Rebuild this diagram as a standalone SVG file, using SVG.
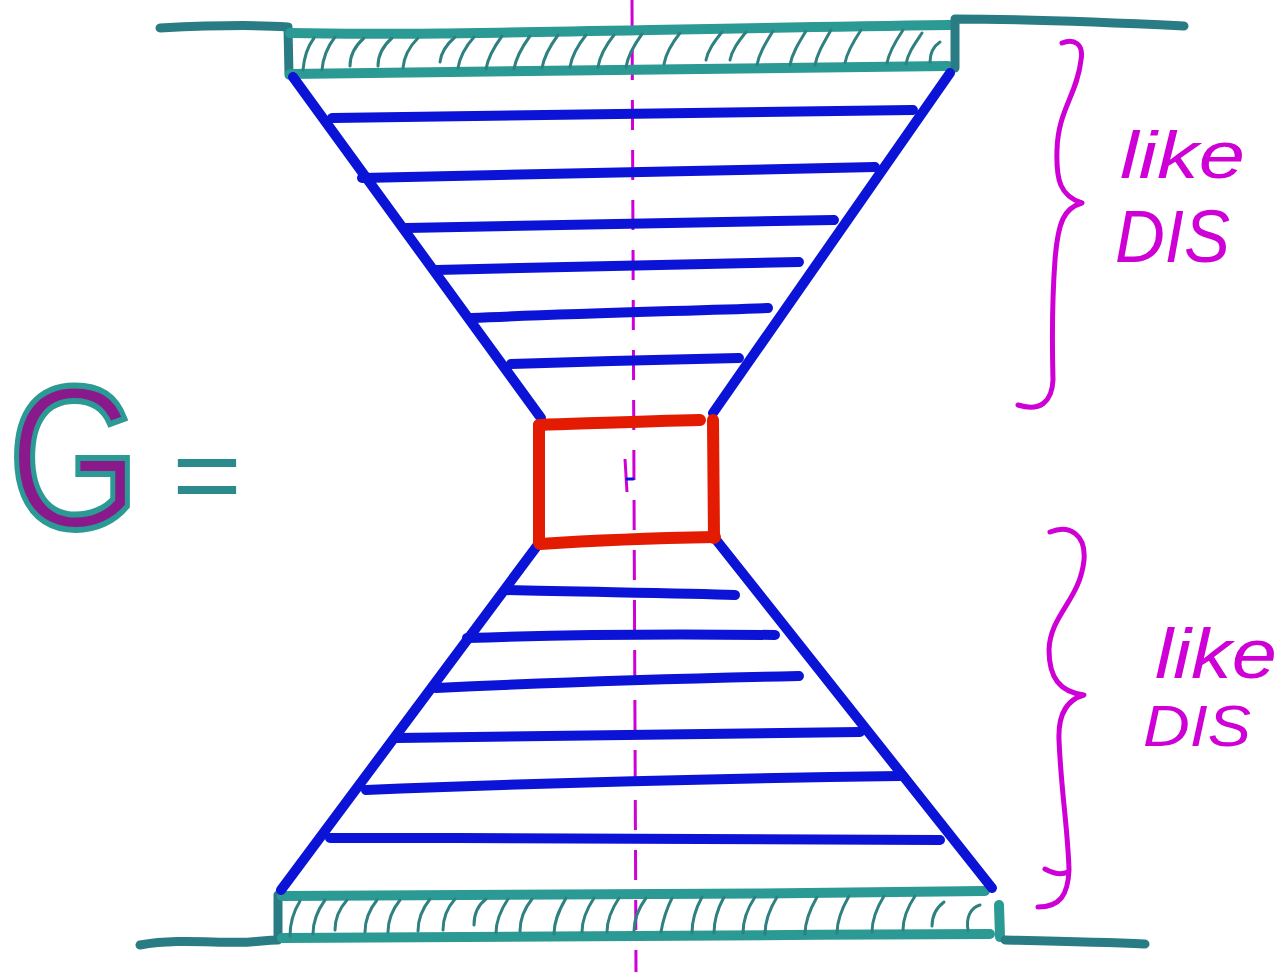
<svg xmlns="http://www.w3.org/2000/svg" width="1281" height="972" viewBox="0 0 1281 972">
<style>
.teal{fill:none;stroke:#2b9a94;stroke-width:10;stroke-linecap:round;stroke-linejoin:round}
.dteal{fill:none;stroke:#2a7c84;stroke-width:9;stroke-linecap:round;stroke-linejoin:round}
.hatch{fill:none;stroke:#2f8080;stroke-width:3;stroke-linecap:round}
.blue{fill:none;stroke:#0b14d6;stroke-width:10;stroke-linecap:round}
.red{fill:none;stroke:#e31b00;stroke-width:12;stroke-linecap:round;stroke-linejoin:round}
.mag{fill:none;stroke:#cf00d6;stroke-width:5;stroke-linecap:round;stroke-linejoin:round}
.hand{font-family:"Liberation Sans",Arial,sans-serif;font-style:italic;fill:#cf00d6}
</style>
<rect width="1281" height="972" fill="#ffffff"/>

<!-- centre line -->
<g id="axis">
<line x1="632" y1="0" x2="636" y2="972" stroke="#cf00d6" stroke-width="3" stroke-dasharray="30 20"/>
</g>

<!-- top plate -->
<g id="top-plate">
<path class="dteal" d="M160,28 C200,26 250,24 288,27 L289,75"/>
<path class="teal" d="M290,33 C420,36 600,30 950,25"/>
<path class="teal" d="M290,74 C450,72 650,70 948,66"/>
<path class="dteal" d="M955,68 L955,19 C1030,19 1100,22 1184,26"/>
<g class="hatch">
<path d="M303,70 C304,58 308,46 314,38"/>
<path d="M322,70 C323,58 328,46 335,37"/>
<path d="M350,66 C350,55 356,45 364,38"/>
<path d="M378,66 C378,55 384,45 392,38"/>
<path d="M403,68 C404,56 410,46 418,38"/>
<path d="M440,62 C441,52 447,44 455,37"/>
<path d="M458,68 C460,56 466,46 474,37"/>
<path d="M486,69 C488,57 494,47 502,36"/>
<path d="M514,69 C516,57 522,47 530,36"/>
<path d="M542,68 C544,56 550,46 558,35"/>
<path d="M570,67 C572,55 578,45 586,35"/>
<path d="M598,67 C600,55 606,45 614,35"/>
<path d="M626,67 C628,55 634,45 642,34"/>
<path d="M664,64 C666,53 672,43 680,33"/>
<path d="M706,60 C708,50 714,42 722,32"/>
<path d="M730,60 C732,50 738,42 746,32"/>
<path d="M757,65 C759,54 765,44 773,31"/>
<path d="M790,65 C792,54 798,44 806,31"/>
<path d="M815,65 C817,54 823,44 831,30"/>
<path d="M845,63 C847,52 853,42 861,30"/>
<path d="M887,63 C889,52 895,42 903,30"/>
<path d="M906,64 C908,53 914,45 922,33"/>
<path d="M930,62 C930,52 934,46 940,42"/>
</g>
</g>

<!-- bottom plate -->
<g id="bottom-plate">
<path class="dteal" d="M140,945 C180,938 220,944 250,942 C262,941 270,940 278,940 L278,895"/>
<path class="teal" d="M282,896 C500,896 750,894 985,891"/>
<path class="teal" d="M282,938 C500,937 750,935 990,934"/>
<path class="teal" d="M999,905 L1000,937"/>
<path class="dteal" d="M1005,940 C1050,941 1100,942 1145,944"/>
<g class="hatch">
<path d="M290,936 C290,925 292,914 300,901"/>
<path d="M313,934 C313,922 317,911 325,900"/>
<path d="M335,930 C335,919 339,909 347,900"/>
<path d="M365,932 C365,920 369,910 377,900"/>
<path d="M388,932 C388,920 392,910 400,900"/>
<path d="M418,931 C418,919 422,909 430,899"/>
<path d="M443,930 C443,918 447,908 455,899"/>
<path d="M474,925 C474,915 478,905 486,899"/>
<path d="M496,933 C496,921 500,911 508,899"/>
<path d="M520,931 C520,919 524,909 532,899"/>
<path d="M554,934 C554,922 558,912 566,898"/>
<path d="M582,932 C582,920 586,910 594,898"/>
<path d="M607,932 C607,920 611,910 619,898"/>
<path d="M634,931 C634,919 638,909 646,898"/>
<path d="M661,932 C663,920 667,908 672,898"/>
<path d="M692,933 C692,921 696,908 702,897"/>
<path d="M714,933 C714,921 718,908 724,897"/>
<path d="M743,933 C743,921 747,909 755,897"/>
<path d="M765,934 C765,922 769,910 777,897"/>
<path d="M805,934 C805,922 809,911 817,897"/>
<path d="M837,933 C837,921 841,910 849,896"/>
<path d="M872,932 C872,920 876,909 884,896"/>
<path d="M903,930 C903,918 907,908 915,896"/>
<path d="M932,926 C932,916 936,908 944,902"/>
<path d="M968,930 C966,918 970,908 980,905"/>
</g>
</g>

<!-- hourglass sides -->
<g id="cone-top">
<line class="blue" x1="293" y1="77" x2="541" y2="418"/>
<line class="blue" x1="950" y1="73" x2="713" y2="413"/>
<path class="blue" d="M332,118 C550,116 750,113 913,110"/>
<path class="blue" d="M362,178 C560,174 720,170 875,167"/>
<path class="blue" d="M406,228 C560,225 700,222 834,220"/>
<path class="blue" d="M436,270 C560,267 700,264 799,262"/>
<path class="blue" d="M471,318 C560,314 680,311 768,308"/>
<path class="blue" d="M511,364 C580,362 680,359 739,358"/>
</g>

<g id="cone-bottom">
<line class="blue" x1="537" y1="546" x2="281" y2="890"/>
<line class="blue" x1="717" y1="541" x2="992" y2="888"/>
<path class="blue" d="M505,590 C580,592 680,593 735,595"/>
<path class="blue" d="M467,638 C580,634 690,634 775,635"/>
<path class="blue" d="M436,688 C560,682 700,678 799,676"/>
<path class="blue" d="M396,738 C560,735 720,733 860,732"/>
<path class="blue" d="M366,790 C560,782 760,778 900,776"/>
<path class="blue" d="M330,838 C540,838 760,839 940,840"/>
</g>

<!-- central box -->
<g id="centre-box">
<path class="red" d="M539,425 C600,423 650,421 700,420"/>
<path class="red" d="M713,420 L714,538"/>
<path class="red" d="M539,425 L539,543"/>
<path class="red" d="M540,544 C600,540 660,538 715,537"/>
<line x1="625" y1="459" x2="627" y2="492" stroke="#cf00d6" stroke-width="3"/>
<line x1="627" y1="479" x2="633" y2="479" stroke="#0b14d6" stroke-width="3" stroke-linecap="round"/>
</g>

<!-- upper brace -->
<g id="brace-top">
<path class="mag" d="M1062,43 C1074,38 1084,44 1081,60 C1077,95 1058,110 1057,150 C1056,180 1060,196 1082,203 C1064,208 1058,222 1055,260 C1052,300 1052,340 1053,380 C1052,402 1040,412 1018,405"/>
<text class="hand" x="1120" y="178" font-size="66" textLength="125" lengthAdjust="spacingAndGlyphs">like</text>
<text class="hand" x="1115" y="262" font-size="74" textLength="115" lengthAdjust="spacingAndGlyphs">DIS</text>
</g>

<!-- lower brace -->
<g id="brace-bottom">
<path class="mag" d="M1050,532 C1070,524 1086,535 1084,560 C1080,600 1050,615 1049,650 C1049,678 1060,692 1084,695 C1066,700 1058,715 1059,740 C1061,790 1068,830 1069,870 C1068,895 1060,907 1038,907"/>
<path class="mag" d="M1045,869 C1054,874 1062,875 1068,872"/>
<text class="hand" x="1155" y="678" font-size="70" textLength="122" lengthAdjust="spacingAndGlyphs">like</text>
<text class="hand" x="1143" y="746" font-size="58" textLength="108" lengthAdjust="spacingAndGlyphs">DIS</text>
</g>

<!-- label G = -->
<g id="label-g">
<text x="8" y="528" font-family="Liberation Sans, Arial, sans-serif" font-size="205" fill="#8a1a8c" stroke="#2b9a94" stroke-width="6" textLength="132" lengthAdjust="spacingAndGlyphs">G</text>
<text x="172" y="512" font-family="Liberation Sans, Arial, sans-serif" font-size="110" fill="#2b8a8c" textLength="70" lengthAdjust="spacingAndGlyphs">=</text>
</g>
</svg>
